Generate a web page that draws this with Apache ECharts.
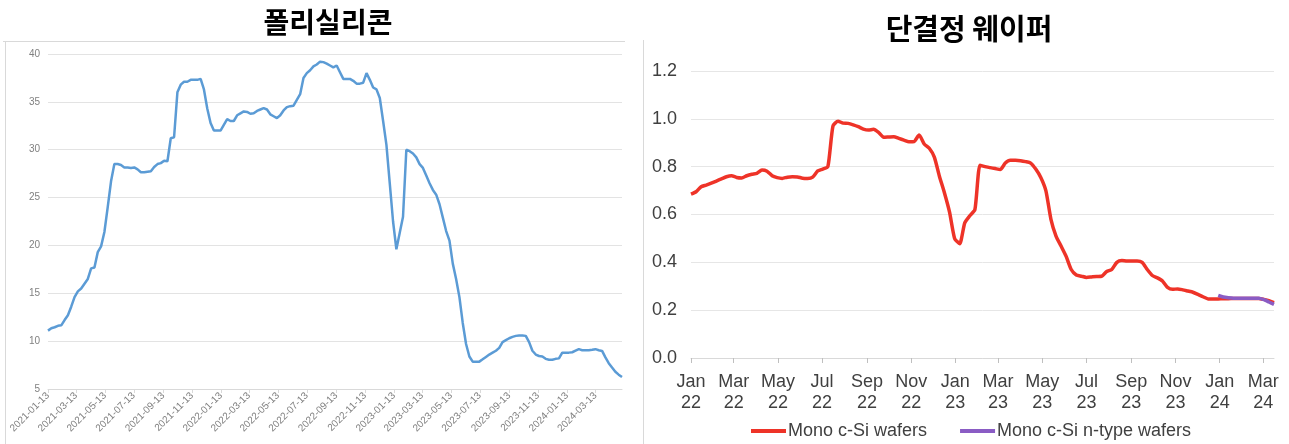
<!DOCTYPE html>
<html>
<head>
<meta charset="utf-8">
<script src="https://cdn.jsdelivr.net/npm/echarts@6/dist/echarts.min.js"></script>
<style>
  html, body { margin: 0; padding: 0; background: #ffffff; }
  #chart { width: 1289px; height: 444px; }
</style>
</head>
<body>
<div id="chart"></div>
<script>
// ---- Polysilicon weekly price (left panel) ----
const polyStart = '2021-01-13';
const polyEnd = '2024-05-08';
const polyPrices = [
  11.1, 11.35, 11.45, 11.6, 11.65, 12.2, 12.7, 13.6, 14.6, 15.2,
  15.5, 16.0, 16.5, 17.6, 17.7, 19.3, 19.9, 21.4, 24.0, 26.7,
  28.5, 28.5, 28.4, 28.15, 28.15, 28.1, 28.15, 27.95, 27.65, 27.65,
  27.7, 27.75, 28.2, 28.5, 28.6, 28.85, 28.8, 31.2, 31.3, 36.0,
  36.8, 37.1, 37.1, 37.3, 37.3, 37.3, 37.4, 36.3, 34.3, 32.8,
  32.0, 32.0, 32.0, 32.6, 33.2, 33.0, 33.0, 33.6, 33.8, 34.0,
  33.95, 33.76, 33.8, 34.05, 34.2, 34.35, 34.2, 33.7, 33.5, 33.3,
  33.6, 34.1, 34.45, 34.55, 34.6, 35.2, 35.8, 37.5, 38.0, 38.3,
  38.7, 38.9, 39.2, 39.15, 39.0, 38.8, 38.6, 38.8, 38.1, 37.4,
  37.4, 37.4, 37.2, 36.9, 36.9, 37.0, 38.0, 37.3, 36.5, 36.3,
  35.4, 33.0, 30.5, 26.5, 22.5, 19.6, 21.3, 23.0, 30.0, 29.85,
  29.6, 29.2, 28.5, 28.1, 27.3, 26.5, 25.8, 25.3, 24.3, 22.9,
  21.5, 20.5, 18.1, 16.5, 14.6, 11.9, 9.7, 8.4, 7.86, 7.86,
  7.86, 8.1, 8.35, 8.6, 8.8, 9.0, 9.3, 9.9, 10.1, 10.3,
  10.45, 10.55, 10.6, 10.6, 10.55, 9.9, 9.0, 8.6, 8.45, 8.4,
  8.15, 8.05, 8.05, 8.15, 8.2, 8.8, 8.8, 8.8, 8.84, 9.0,
  9.16, 9.05, 9.05, 9.05, 9.1, 9.16, 9.05, 8.98, 8.3, 7.7,
  7.24, 6.8, 6.5, 6.25
];
const polyTickLabels = [
  '2021-01-13', '2021-03-13', '2021-05-13', '2021-07-13', '2021-09-13', '2021-11-13',
  '2022-01-13', '2022-03-13', '2022-05-13', '2022-07-13', '2022-09-13', '2022-11-13',
  '2023-01-13', '2023-03-13', '2023-05-13', '2023-07-13', '2023-09-13', '2023-11-13',
  '2024-01-13', '2024-03-13'
];

// ---- Mono wafer weekly price (right panel) ----
const waferStart = '2022-01-01';
const waferEnd = '2024-03-16';
const monoWafers = [
  0.685, 0.695, 0.716, 0.723, 0.731, 0.740, 0.749, 0.758, 0.762, 0.755,
  0.753, 0.762, 0.768, 0.772, 0.786, 0.781, 0.762, 0.754, 0.751, 0.756,
  0.758, 0.757, 0.752, 0.751, 0.756, 0.782, 0.790, 0.800, 0.970, 0.990,
  0.982, 0.981, 0.975, 0.967, 0.957, 0.953, 0.956, 0.943, 0.923, 0.924,
  0.925, 0.918, 0.911, 0.904, 0.905, 0.932, 0.895, 0.877, 0.840, 0.760,
  0.690, 0.610, 0.500, 0.478, 0.565, 0.595, 0.620, 0.806, 0.800, 0.796,
  0.792, 0.788, 0.815, 0.827, 0.827, 0.825, 0.821, 0.815, 0.790, 0.755,
  0.700, 0.580, 0.510, 0.468, 0.425, 0.370, 0.347, 0.342, 0.337, 0.339,
  0.341, 0.342, 0.362, 0.370, 0.400, 0.408, 0.406, 0.406, 0.406, 0.400,
  0.370, 0.345, 0.335, 0.322, 0.295, 0.287, 0.289, 0.285, 0.280, 0.275,
  0.266, 0.256, 0.247, 0.247, 0.247, 0.248, 0.248, 0.249, 0.249, 0.249,
  0.249, 0.249, 0.249, 0.245, 0.240, 0.232
];
const nTypeStart = '2023-12-30';
const monoNType = [0.262, 0.255, 0.252, 0.250, 0.250, 0.250, 0.250, 0.250, 0.250, 0.244, 0.234, 0.224];
const waferTickDates = [
  '2022-01-01', '2022-03-01', '2022-05-01', '2022-07-01', '2022-09-01', '2022-11-01',
  '2023-01-01', '2023-03-01', '2023-05-01', '2023-07-01', '2023-09-01', '2023-11-01',
  '2024-01-01', '2024-03-01'
];
const waferTickLabels = [
  'Jan\n22', 'Mar\n22', 'May\n22', 'Jul\n22', 'Sep\n22', 'Nov\n22',
  'Jan\n23', 'Mar\n23', 'May\n23', 'Jul\n23', 'Sep\n23', 'Nov\n23',
  'Jan\n24', 'Mar\n24'
];

// ---- helpers: daily category lists and weekly [date, value] pairs ----
const DAY = 86400000;
function isoDay(t) { return new Date(t).toISOString().slice(0, 10); }
function dayRange(a, b) {
  const out = [];
  const end = Date.parse(b + 'T00:00:00Z');
  for (let t = Date.parse(a + 'T00:00:00Z'); t <= end; t += DAY) out.push(isoDay(t));
  return out;
}
function weeklyPairs(start, values) {
  const t0 = Date.parse(start + 'T00:00:00Z');
  return values.map((v, i) => [isoDay(t0 + i * 7 * DAY), v]);
}

const polyDays = dayRange(polyStart, polyEnd);
const waferDays = dayRange(waferStart, waferEnd);
const polyTickSet = new Set(polyTickLabels);
const waferTickMap = new Map(waferTickDates.map((d, i) => [d, waferTickLabels[i]]));

const chart = echarts.init(document.getElementById('chart'), null, { renderer: 'canvas' });

const latin = "'Liberation Sans', Arial, sans-serif";
const hangul = "'Noto Sans CJK KR', 'Noto Sans', sans-serif";

chart.setOption({
  animation: false,
  backgroundColor: '#ffffff',
  title: [
    { text: '폴리실리콘', left: 323, top: 3, textAlign: 'center',
      textStyle: { fontFamily: hangul, fontWeight: 'bold', fontSize: 28, color: '#000000' } },
    { text: '단결정 웨이퍼', left: 964, top: 9, textAlign: 'center',
      textStyle: { fontFamily: hangul, fontWeight: 'bold', fontSize: 29, color: '#000000' } }
  ],
  graphic: [
    { type: 'line', shape: { x1: 3, y1: 41.5, x2: 625, y2: 41.5 }, style: { stroke: '#d9d9d9', lineWidth: 1 } },
    { type: 'line', shape: { x1: 5.5, y1: 41.5, x2: 5.5, y2: 444 }, style: { stroke: '#d9d9d9', lineWidth: 1 } },
    { type: 'line', shape: { x1: 643.5, y1: 40, x2: 643.5, y2: 444 }, style: { stroke: '#d9d9d9', lineWidth: 1 } }
  ],
  legend: {
    data: ['Mono c-Si wafers', 'Mono c-Si n-type wafers'],
    left: 746, top: 417,
    icon: 'rect', itemWidth: 35, itemHeight: 4, itemGap: 33,
    textStyle: { fontFamily: latin, fontSize: 18, color: '#404040', padding: [0, 0, 0, -3] }
  },
  grid: [
    { left: 48, top: 54, width: 574, height: 335 },
    { left: 691, top: 71, width: 583, height: 287 }
  ],
  xAxis: [
    {
      gridIndex: 0, type: 'category', data: polyDays, boundaryGap: false,
      axisLine: { lineStyle: { color: '#d9d9d9', width: 1 } },
      axisTick: { interval: (i, v) => polyTickSet.has(v), length: 4, lineStyle: { color: '#d9d9d9' } },
      axisLabel: {
        interval: (i, v) => polyTickSet.has(v), rotate: 45, margin: 5,
        fontFamily: latin, fontSize: 10, color: '#808080'
      },
      splitLine: { show: false }
    },
    {
      gridIndex: 1, type: 'category', data: waferDays, boundaryGap: false,
      axisLine: { lineStyle: { color: '#d9d9d9', width: 1 } },
      axisTick: { interval: (i, v) => waferTickMap.has(v), length: 5, lineStyle: { color: '#bfbfbf' } },
      axisLabel: {
        interval: (i, v) => waferTickMap.has(v), margin: 14,
        formatter: v => waferTickMap.get(v) || '',
        fontFamily: latin, fontSize: 18, lineHeight: 21, color: '#404040'
      },
      splitLine: { show: false }
    }
  ],
  yAxis: [
    {
      gridIndex: 0, type: 'value', min: 5, max: 40, interval: 5,
      axisLine: { show: false }, axisTick: { show: false },
      axisLabel: { margin: 8, fontFamily: latin, fontSize: 10, color: '#808080' },
      splitLine: { lineStyle: { color: '#e3e3e3', width: 1 } }
    },
    {
      gridIndex: 1, type: 'value', min: 0, max: 1.2, interval: 0.2,
      axisLine: { show: false }, axisTick: { show: false },
      axisLabel: { margin: 14, formatter: v => v.toFixed(1), fontFamily: latin, fontSize: 18, color: '#404040' },
      splitLine: { lineStyle: { color: '#e6e6e6', width: 1 } }
    }
  ],
  series: [
    {
      name: '폴리실리콘', type: 'line', xAxisIndex: 0, yAxisIndex: 0,
      data: weeklyPairs(polyStart, polyPrices),
      showSymbol: false, smooth: false,
      lineStyle: { color: '#5b9bd5', width: 2.5 }, itemStyle: { color: '#5b9bd5' }
    },
    {
      name: 'Mono c-Si wafers', type: 'line', xAxisIndex: 1, yAxisIndex: 1,
      data: weeklyPairs(waferStart, monoWafers),
      showSymbol: false, smooth: 0.2,
      lineStyle: { color: '#ee3328', width: 3.5 }, itemStyle: { color: '#ee3328' }
    },
    {
      name: 'Mono c-Si n-type wafers', type: 'line', xAxisIndex: 1, yAxisIndex: 1,
      data: weeklyPairs(nTypeStart, monoNType),
      showSymbol: false, smooth: 0.2,
      lineStyle: { color: '#8a5cc4', width: 3.5 }, itemStyle: { color: '#8a5cc4' }
    }
  ]
});
</script>
</body>
</html>
